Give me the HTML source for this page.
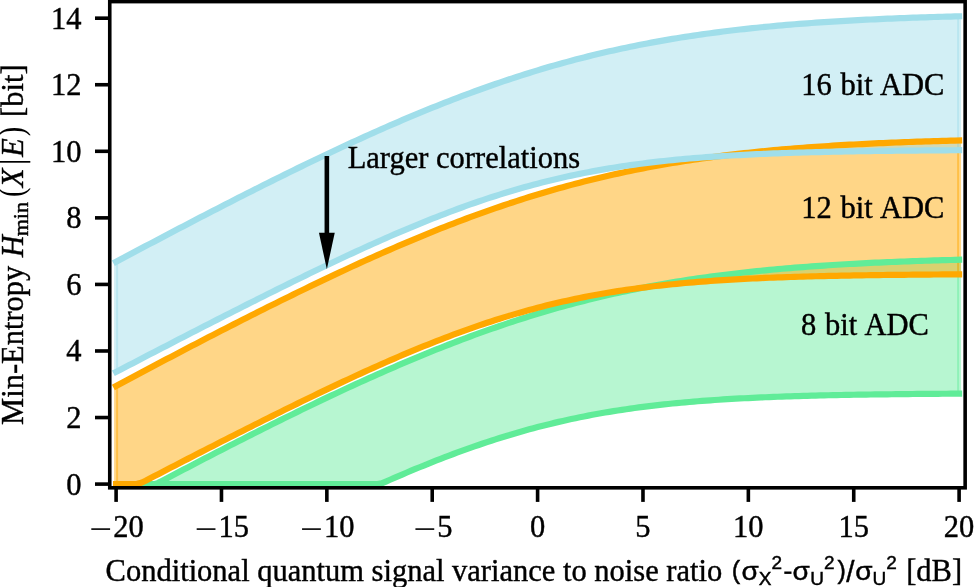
<!DOCTYPE html>
<html><head><meta charset="utf-8"><title>Min-Entropy</title>
<style>html,body{margin:0;padding:0;background:#fff;}svg{display:block;will-change:transform;}text{font-family:"Liberation Serif",serif;fill:#000;}.ss{font-family:"Liberation Sans",sans-serif;}</style>
</head><body>
<svg width="974" height="587" viewBox="0 0 974 587">
<rect width="974" height="587" fill="#fff"/>
<defs><clipPath id="ax"><rect x="109.75" y="1.60" width="855.40" height="486.20"/></clipPath></defs>
<g clip-path="url(#ax)">
<polygon points="116.10,484.10 120.31,484.10 124.53,484.10 128.75,484.10 132.96,484.10 137.17,484.10 141.39,484.10 145.60,484.10 149.82,484.10 154.04,484.10 158.25,482.86 162.46,480.64 166.68,478.42 170.90,476.20 175.11,473.99 179.32,471.78 183.54,469.58 187.75,467.38 191.97,465.18 196.19,462.98 200.40,460.79 204.61,458.61 208.83,456.43 213.05,454.25 217.26,452.08 221.47,449.91 225.69,447.75 229.91,445.59 234.12,443.44 238.34,441.29 242.55,439.14 246.76,437.01 250.98,434.88 255.20,432.75 259.41,430.63 263.62,428.52 267.84,426.41 272.06,424.31 276.27,422.21 280.49,420.13 284.70,418.05 288.92,415.97 293.13,413.91 297.34,411.85 301.56,409.80 305.77,407.75 309.99,405.72 314.20,403.69 318.42,401.67 322.63,399.66 326.85,397.66 331.06,395.67 335.28,393.69 339.50,391.72 343.71,389.75 347.92,387.80 352.14,385.86 356.36,383.92 360.57,382.00 364.78,380.09 369.00,378.19 373.22,376.30 377.43,374.42 381.64,372.56 385.86,370.71 390.07,368.86 394.29,367.04 398.50,365.22 402.72,363.42 406.93,361.63 411.15,359.85 415.37,358.08 419.58,356.34 423.79,354.60 428.01,352.88 432.23,351.17 436.44,349.48 440.65,347.80 444.87,346.14 449.09,344.49 453.30,342.86 457.51,341.25 461.73,339.65 465.95,338.07 470.16,336.50 474.38,334.95 478.59,333.42 482.81,331.90 487.02,330.40 491.24,328.92 495.45,327.45 499.66,326.00 503.88,324.57 508.10,323.16 512.31,321.77 516.52,320.39 520.74,319.03 524.96,317.69 529.17,316.37 533.38,315.07 537.60,313.79 541.82,312.52 546.03,311.27 550.25,310.04 554.46,308.83 558.67,307.64 562.89,306.47 567.11,305.31 571.32,304.18 575.53,303.06 579.75,301.96 583.97,300.88 588.18,299.82 592.39,298.78 596.61,297.76 600.82,296.75 605.04,295.76 609.25,294.80 613.47,293.85 617.68,292.91 621.90,292.00 626.12,291.10 630.33,290.22 634.55,289.36 638.76,288.51 642.98,287.69 647.19,286.88 651.41,286.08 655.62,285.31 659.84,284.55 664.05,283.80 668.27,283.08 672.48,282.36 676.70,281.67 680.91,280.99 685.12,280.32 689.34,279.67 693.56,279.04 697.77,278.42 701.99,277.81 706.20,277.22 710.42,276.65 714.63,276.08 718.85,275.53 723.06,275.00 727.27,274.47 731.49,273.96 735.71,273.47 739.92,272.98 744.13,272.51 748.35,272.05 752.57,271.60 756.78,271.16 761.00,270.74 765.21,270.32 769.42,269.92 773.64,269.52 777.86,269.14 782.07,268.77 786.28,268.40 790.50,268.05 794.72,267.71 798.93,267.37 803.14,267.05 807.36,266.73 811.58,266.42 815.79,266.13 820.00,265.83 824.22,265.55 828.44,265.28 832.65,265.01 836.87,264.75 841.08,264.50 845.30,264.25 849.51,264.01 853.73,263.78 857.94,263.56 862.15,263.34 866.37,263.13 870.59,262.92 874.80,262.72 879.02,262.53 883.23,262.34 887.45,262.16 891.66,261.98 895.88,261.81 900.09,261.64 904.30,261.48 908.52,261.32 912.74,261.16 916.95,261.02 921.17,260.87 925.38,260.73 929.60,260.60 933.81,260.47 938.02,260.34 942.24,260.21 946.46,260.09 950.67,259.98 954.89,259.86 959.10,259.75 959.10,393.67 954.89,393.69 950.67,393.72 946.46,393.74 942.24,393.77 938.02,393.80 933.81,393.83 929.60,393.86 925.38,393.90 921.17,393.93 916.95,393.97 912.74,394.01 908.52,394.05 904.30,394.09 900.09,394.14 895.88,394.18 891.66,394.23 887.45,394.28 883.23,394.33 879.02,394.39 874.80,394.45 870.59,394.51 866.37,394.57 862.15,394.63 857.94,394.70 853.73,394.77 849.51,394.85 845.30,394.93 841.08,395.01 836.87,395.09 832.65,395.18 828.44,395.27 824.22,395.37 820.00,395.47 815.79,395.58 811.58,395.69 807.36,395.80 803.14,395.92 798.93,396.04 794.72,396.18 790.50,396.31 786.28,396.45 782.07,396.60 777.86,396.75 773.64,396.92 769.42,397.08 765.21,397.26 761.00,397.44 756.78,397.63 752.57,397.83 748.35,398.03 744.13,398.25 739.92,398.47 735.71,398.70 731.49,398.94 727.27,399.20 723.06,399.46 718.85,399.73 714.63,400.01 710.42,400.31 706.20,400.62 701.99,400.93 697.77,401.27 693.56,401.61 689.34,401.97 685.12,402.34 680.91,402.72 676.70,403.12 672.48,403.54 668.27,403.97 664.05,404.41 659.84,404.87 655.62,405.35 651.41,405.85 647.19,406.36 642.98,406.89 638.76,407.44 634.55,408.01 630.33,408.60 626.12,409.20 621.90,409.83 617.68,410.48 613.47,411.15 609.25,411.84 605.04,412.55 600.82,413.28 596.61,414.04 592.39,414.81 588.18,415.61 583.97,416.44 579.75,417.29 575.53,418.16 571.32,419.05 567.11,419.97 562.89,420.91 558.67,421.88 554.46,422.87 550.25,423.89 546.03,424.93 541.82,426.00 537.60,427.09 533.38,428.21 529.17,429.35 524.96,430.52 520.74,431.71 516.52,432.93 512.31,434.17 508.10,435.43 503.88,436.72 499.66,438.04 495.45,439.38 491.24,440.74 487.02,442.12 482.81,443.53 478.59,444.96 474.38,446.42 470.16,447.90 465.95,449.40 461.73,450.92 457.51,452.46 453.30,454.02 449.09,455.61 444.87,457.21 440.65,458.84 436.44,460.48 432.23,462.14 428.01,463.83 423.79,465.53 419.58,467.24 415.37,468.98 411.15,470.73 406.93,472.50 402.72,474.28 398.50,476.08 394.29,477.90 390.07,479.73 385.86,481.57 381.64,483.43 377.43,484.10 373.22,484.10 369.00,484.10 364.78,484.10 360.57,484.10 356.36,484.10 352.14,484.10 347.92,484.10 343.71,484.10 339.50,484.10 335.28,484.10 331.06,484.10 326.85,484.10 322.63,484.10 318.42,484.10 314.20,484.10 309.99,484.10 305.77,484.10 301.56,484.10 297.34,484.10 293.13,484.10 288.92,484.10 284.70,484.10 280.49,484.10 276.27,484.10 272.06,484.10 267.84,484.10 263.62,484.10 259.41,484.10 255.20,484.10 250.98,484.10 246.76,484.10 242.55,484.10 238.34,484.10 234.12,484.10 229.91,484.10 225.69,484.10 221.47,484.10 217.26,484.10 213.05,484.10 208.83,484.10 204.61,484.10 200.40,484.10 196.19,484.10 191.97,484.10 187.75,484.10 183.54,484.10 179.32,484.10 175.11,484.10 170.90,484.10 166.68,484.10 162.46,484.10 158.25,484.10 154.04,484.10 149.82,484.10 145.60,484.10 141.39,484.10 137.17,484.10 132.96,484.10 128.75,484.10 124.53,484.10 120.31,484.10 116.10,484.10" fill="#60ec98" fill-opacity="0.45" stroke="#60ec98" stroke-opacity="0.45" stroke-width="4.0" stroke-linejoin="miter"/>
<polygon points="116.10,385.93 120.31,383.68 124.53,381.44 128.75,379.19 132.96,376.95 137.17,374.71 141.39,372.47 145.60,370.24 149.82,368.01 154.04,365.78 158.25,363.55 162.46,361.33 166.68,359.11 170.90,356.90 175.11,354.68 179.32,352.47 183.54,350.27 187.75,348.07 191.97,345.87 196.19,343.68 200.40,341.49 204.61,339.30 208.83,337.12 213.05,334.94 217.26,332.77 221.47,330.60 225.69,328.44 229.91,326.28 234.12,324.13 238.34,321.98 242.55,319.84 246.76,317.70 250.98,315.57 255.20,313.44 259.41,311.32 263.62,309.21 267.84,307.10 272.06,305.00 276.27,302.91 280.49,300.82 284.70,298.74 288.92,296.66 293.13,294.60 297.34,292.54 301.56,290.49 305.77,288.45 309.99,286.41 314.20,284.38 318.42,282.36 322.63,280.36 326.85,278.35 331.06,276.36 335.28,274.38 339.50,272.41 343.71,270.44 347.92,268.49 352.14,266.55 356.36,264.62 360.57,262.69 364.78,260.78 369.00,258.88 373.22,256.99 377.43,255.12 381.64,253.25 385.86,251.40 390.07,249.56 394.29,247.73 398.50,245.91 402.72,244.11 406.93,242.32 411.15,240.54 415.37,238.78 419.58,237.03 423.79,235.29 428.01,233.57 432.23,231.86 436.44,230.17 440.65,228.49 444.87,226.83 449.09,225.19 453.30,223.55 457.51,221.94 461.73,220.34 465.95,218.76 470.16,217.19 474.38,215.64 478.59,214.11 482.81,212.59 487.02,211.09 491.24,209.61 495.45,208.14 499.66,206.70 503.88,205.27 508.10,203.85 512.31,202.46 516.52,201.08 520.74,199.73 524.96,198.39 529.17,197.06 533.38,195.76 537.60,194.48 541.82,193.21 546.03,191.96 550.25,190.73 554.46,189.52 558.67,188.33 562.89,187.16 567.11,186.01 571.32,184.87 575.53,183.75 579.75,182.66 583.97,181.58 588.18,180.51 592.39,179.47 596.61,178.45 600.82,177.44 605.04,176.46 609.25,175.49 613.47,174.54 617.68,173.60 621.90,172.69 626.12,171.79 630.33,170.91 634.55,170.05 638.76,169.21 642.98,168.38 647.19,167.57 651.41,166.77 655.62,166.00 659.84,165.24 664.05,164.49 668.27,163.77 672.48,163.06 676.70,162.36 680.91,161.68 685.12,161.01 689.34,160.37 693.56,159.73 697.77,159.11 701.99,158.51 706.20,157.91 710.42,157.34 714.63,156.77 718.85,156.22 723.06,155.69 727.27,155.17 731.49,154.66 735.71,154.16 739.92,153.67 744.13,153.20 748.35,152.74 752.57,152.29 756.78,151.85 761.00,151.43 765.21,151.01 769.42,150.61 773.64,150.21 777.86,149.83 782.07,149.46 786.28,149.10 790.50,148.74 794.72,148.40 798.93,148.06 803.14,147.74 807.36,147.42 811.58,147.12 815.79,146.82 820.00,146.53 824.22,146.24 828.44,145.97 832.65,145.70 836.87,145.44 841.08,145.19 845.30,144.94 849.51,144.71 853.73,144.47 857.94,144.25 862.15,144.03 866.37,143.82 870.59,143.61 874.80,143.41 879.02,143.22 883.23,143.03 887.45,142.85 891.66,142.67 895.88,142.50 900.09,142.33 904.30,142.17 908.52,142.01 912.74,141.86 916.95,141.71 921.17,141.56 925.38,141.42 929.60,141.29 933.81,141.16 938.02,141.03 942.24,140.91 946.46,140.79 950.67,140.67 954.89,140.56 959.10,140.45 959.10,274.36 954.89,274.38 950.67,274.41 946.46,274.43 942.24,274.46 938.02,274.49 933.81,274.52 929.60,274.56 925.38,274.59 921.17,274.62 916.95,274.66 912.74,274.70 908.52,274.74 904.30,274.78 900.09,274.83 895.88,274.87 891.66,274.92 887.45,274.97 883.23,275.02 879.02,275.08 874.80,275.14 870.59,275.20 866.37,275.26 862.15,275.32 857.94,275.39 853.73,275.46 849.51,275.54 845.30,275.62 841.08,275.70 836.87,275.78 832.65,275.87 828.44,275.96 824.22,276.06 820.00,276.16 815.79,276.27 811.58,276.38 807.36,276.49 803.14,276.61 798.93,276.74 794.72,276.87 790.50,277.00 786.28,277.14 782.07,277.29 777.86,277.45 773.64,277.61 769.42,277.77 765.21,277.95 761.00,278.13 756.78,278.32 752.57,278.52 748.35,278.72 744.13,278.94 739.92,279.16 735.71,279.39 731.49,279.64 727.27,279.89 723.06,280.15 718.85,280.42 714.63,280.71 710.42,281.00 706.20,281.31 701.99,281.63 697.77,281.96 693.56,282.30 689.34,282.66 685.12,283.03 680.91,283.41 676.70,283.81 672.48,284.23 668.27,284.66 664.05,285.10 659.84,285.57 655.62,286.04 651.41,286.54 647.19,287.05 642.98,287.58 638.76,288.13 634.55,288.70 630.33,289.29 626.12,289.90 621.90,290.52 617.68,291.17 613.47,291.84 609.25,292.53 605.04,293.24 600.82,293.97 596.61,294.73 592.39,295.50 588.18,296.31 583.97,297.13 579.75,297.98 575.53,298.85 571.32,299.74 567.11,300.66 562.89,301.60 558.67,302.57 554.46,303.57 550.25,304.58 546.03,305.62 541.82,306.69 537.60,307.78 533.38,308.90 529.17,310.04 524.96,311.21 520.74,312.40 516.52,313.62 512.31,314.86 508.10,316.12 503.88,317.41 499.66,318.73 495.45,320.07 491.24,321.43 487.02,322.81 482.81,324.22 478.59,325.66 474.38,327.11 470.16,328.59 465.95,330.09 461.73,331.61 457.51,333.15 453.30,334.72 449.09,336.30 444.87,337.90 440.65,339.53 436.44,341.17 432.23,342.84 428.01,344.52 423.79,346.22 419.58,347.93 415.37,349.67 411.15,351.42 406.93,353.19 402.72,354.97 398.50,356.77 394.29,358.59 390.07,360.42 385.86,362.26 381.64,364.12 377.43,365.99 373.22,367.88 369.00,369.77 364.78,371.68 360.57,373.61 356.36,375.54 352.14,377.48 347.92,379.44 343.71,381.40 339.50,383.38 335.28,385.36 331.06,387.36 326.85,389.36 322.63,391.38 318.42,393.40 314.20,395.43 309.99,397.46 305.77,399.51 301.56,401.56 297.34,403.62 293.13,405.68 288.92,407.75 284.70,409.83 280.49,411.92 276.27,414.01 272.06,416.10 267.84,418.20 263.62,420.31 259.41,422.42 255.20,424.53 250.98,426.65 246.76,428.78 242.55,430.90 238.34,433.04 234.12,435.17 229.91,437.31 225.69,439.46 221.47,441.60 217.26,443.75 213.05,445.91 208.83,448.06 204.61,450.22 200.40,452.38 196.19,454.55 191.97,456.71 187.75,458.88 183.54,461.05 179.32,463.23 175.11,465.40 170.90,467.58 166.68,469.76 162.46,471.94 158.25,474.13 154.04,476.31 149.82,478.50 145.60,480.69 141.39,482.68 137.17,483.83 132.96,484.10 128.75,484.10 124.53,484.10 120.31,484.10 116.10,484.10" fill="#ffa800" fill-opacity="0.47" stroke="#ffa800" stroke-opacity="0.47" stroke-width="4.0" stroke-linejoin="miter"/>
<polygon points="116.10,261.80 120.31,259.55 124.53,257.30 128.75,255.06 132.96,252.81 137.17,250.57 141.39,248.34 145.60,246.10 149.82,243.87 154.04,241.64 158.25,239.42 162.46,237.20 166.68,234.98 170.90,232.76 175.11,230.55 179.32,228.34 183.54,226.13 187.75,223.93 191.97,221.73 196.19,219.54 200.40,217.35 204.61,215.17 208.83,212.98 213.05,210.81 217.26,208.63 221.47,206.47 225.69,204.30 229.91,202.15 234.12,199.99 238.34,197.84 242.55,195.70 246.76,193.56 250.98,191.43 255.20,189.31 259.41,187.19 263.62,185.07 267.84,182.97 272.06,180.87 276.27,178.77 280.49,176.68 284.70,174.60 288.92,172.53 293.13,170.46 297.34,168.40 301.56,166.35 305.77,164.31 309.99,162.28 314.20,160.25 318.42,158.23 322.63,156.22 326.85,154.22 331.06,152.23 335.28,150.25 339.50,148.27 343.71,146.31 347.92,144.36 352.14,142.41 356.36,140.48 360.57,138.56 364.78,136.65 369.00,134.75 373.22,132.86 377.43,130.98 381.64,129.12 385.86,127.26 390.07,125.42 394.29,123.59 398.50,121.78 402.72,119.97 406.93,118.18 411.15,116.40 415.37,114.64 419.58,112.89 423.79,111.16 428.01,109.44 432.23,107.73 436.44,106.04 440.65,104.36 444.87,102.70 449.09,101.05 453.30,99.42 457.51,97.81 461.73,96.21 465.95,94.62 470.16,93.06 474.38,91.51 478.59,89.97 482.81,88.46 487.02,86.96 491.24,85.47 495.45,84.01 499.66,82.56 503.88,81.13 508.10,79.72 512.31,78.33 516.52,76.95 520.74,75.59 524.96,74.25 529.17,72.93 533.38,71.63 537.60,70.34 541.82,69.08 546.03,67.83 550.25,66.60 554.46,65.39 558.67,64.20 562.89,63.03 567.11,61.87 571.32,60.74 575.53,59.62 579.75,58.52 583.97,57.44 588.18,56.38 592.39,55.34 596.61,54.31 600.82,53.31 605.04,52.32 609.25,51.35 613.47,50.40 617.68,49.47 621.90,48.55 626.12,47.66 630.33,46.78 634.55,45.92 638.76,45.07 642.98,44.24 647.19,43.43 651.41,42.64 655.62,41.86 659.84,41.10 664.05,40.36 668.27,39.63 672.48,38.92 676.70,38.23 680.91,37.55 685.12,36.88 689.34,36.23 693.56,35.60 697.77,34.98 701.99,34.37 706.20,33.78 710.42,33.20 714.63,32.64 718.85,32.09 723.06,31.55 727.27,31.03 731.49,30.52 735.71,30.02 739.92,29.54 744.13,29.07 748.35,28.61 752.57,28.16 756.78,27.72 761.00,27.29 765.21,26.88 769.42,26.47 773.64,26.08 777.86,25.70 782.07,25.32 786.28,24.96 790.50,24.61 794.72,24.26 798.93,23.93 803.14,23.61 807.36,23.29 811.58,22.98 815.79,22.68 820.00,22.39 824.22,22.11 828.44,21.83 832.65,21.57 836.87,21.31 841.08,21.05 845.30,20.81 849.51,20.57 853.73,20.34 857.94,20.11 862.15,19.90 866.37,19.68 870.59,19.48 874.80,19.28 879.02,19.08 883.23,18.90 887.45,18.71 891.66,18.53 895.88,18.36 900.09,18.19 904.30,18.03 908.52,17.87 912.74,17.72 916.95,17.57 921.17,17.43 925.38,17.29 929.60,17.15 933.81,17.02 938.02,16.89 942.24,16.77 946.46,16.65 950.67,16.53 954.89,16.42 959.10,16.31 959.10,150.22 954.89,150.25 950.67,150.27 946.46,150.30 942.24,150.33 938.02,150.36 933.81,150.39 929.60,150.42 925.38,150.46 921.17,150.49 916.95,150.53 912.74,150.57 908.52,150.61 904.30,150.65 900.09,150.69 895.88,150.74 891.66,150.79 887.45,150.84 883.23,150.89 879.02,150.94 874.80,151.00 870.59,151.06 866.37,151.12 862.15,151.19 857.94,151.26 853.73,151.33 849.51,151.40 845.30,151.48 841.08,151.56 836.87,151.65 832.65,151.74 828.44,151.83 824.22,151.93 820.00,152.03 815.79,152.13 811.58,152.24 807.36,152.36 803.14,152.48 798.93,152.60 794.72,152.73 790.50,152.87 786.28,153.01 782.07,153.16 777.86,153.31 773.64,153.47 769.42,153.64 765.21,153.81 761.00,154.00 756.78,154.19 752.57,154.38 748.35,154.59 744.13,154.80 739.92,155.03 735.71,155.26 731.49,155.50 727.27,155.75 723.06,156.02 718.85,156.29 714.63,156.57 710.42,156.87 706.20,157.17 701.99,157.49 697.77,157.82 693.56,158.17 689.34,158.52 685.12,158.89 680.91,159.28 676.70,159.68 672.48,160.09 668.27,160.52 664.05,160.97 659.84,161.43 655.62,161.91 651.41,162.40 647.19,162.92 642.98,163.45 638.76,164.00 634.55,164.57 630.33,165.15 626.12,165.76 621.90,166.39 617.68,167.04 613.47,167.70 609.25,168.39 605.04,169.10 600.82,169.84 596.61,170.59 592.39,171.37 588.18,172.17 583.97,172.99 579.75,173.84 575.53,174.71 571.32,175.61 567.11,176.53 562.89,177.47 558.67,178.44 554.46,179.43 550.25,180.45 546.03,181.49 541.82,182.56 537.60,183.65 533.38,184.77 529.17,185.91 524.96,187.07 520.74,188.27 516.52,189.48 512.31,190.72 508.10,191.99 503.88,193.28 499.66,194.59 495.45,195.93 491.24,197.29 487.02,198.68 482.81,200.09 478.59,201.52 474.38,202.98 470.16,204.45 465.95,205.95 461.73,207.47 457.51,209.02 453.30,210.58 449.09,212.17 444.87,213.77 440.65,215.39 436.44,217.04 432.23,218.70 428.01,220.38 423.79,222.08 419.58,223.80 415.37,225.53 411.15,227.29 406.93,229.06 402.72,230.84 398.50,232.64 394.29,234.45 390.07,236.28 385.86,238.13 381.64,239.99 377.43,241.86 373.22,243.74 369.00,245.64 364.78,247.55 360.57,249.47 356.36,251.40 352.14,253.35 347.92,255.30 343.71,257.27 339.50,259.25 335.28,261.23 331.06,263.23 326.85,265.23 322.63,267.24 318.42,269.26 314.20,271.29 309.99,273.33 305.77,275.37 301.56,277.42 297.34,279.48 293.13,281.55 288.92,283.62 284.70,285.70 280.49,287.78 276.27,289.87 272.06,291.97 267.84,294.07 263.62,296.17 259.41,298.28 255.20,300.40 250.98,302.52 246.76,304.64 242.55,306.77 238.34,308.90 234.12,311.04 229.91,313.18 225.69,315.32 221.47,317.47 217.26,319.62 213.05,321.77 208.83,323.93 204.61,326.09 200.40,328.25 196.19,330.41 191.97,332.58 187.75,334.75 183.54,336.92 179.32,339.09 175.11,341.27 170.90,343.45 166.68,345.63 162.46,347.81 158.25,349.99 154.04,352.18 149.82,354.36 145.60,356.55 141.39,358.74 137.17,360.93 132.96,363.13 128.75,365.32 124.53,367.52 120.31,369.71 116.10,371.91" fill="#a0deea" fill-opacity="0.47" stroke="#a0deea" stroke-opacity="0.47" stroke-width="4.0" stroke-linejoin="miter"/>
<polyline points="116.10,484.10 120.31,484.10 124.53,484.10 128.75,484.10 132.96,484.10 137.17,484.10 141.39,484.10 145.60,484.10 149.82,484.10 154.04,484.10 158.25,482.86 162.46,480.64 166.68,478.42 170.90,476.20 175.11,473.99 179.32,471.78 183.54,469.58 187.75,467.38 191.97,465.18 196.19,462.98 200.40,460.79 204.61,458.61 208.83,456.43 213.05,454.25 217.26,452.08 221.47,449.91 225.69,447.75 229.91,445.59 234.12,443.44 238.34,441.29 242.55,439.14 246.76,437.01 250.98,434.88 255.20,432.75 259.41,430.63 263.62,428.52 267.84,426.41 272.06,424.31 276.27,422.21 280.49,420.13 284.70,418.05 288.92,415.97 293.13,413.91 297.34,411.85 301.56,409.80 305.77,407.75 309.99,405.72 314.20,403.69 318.42,401.67 322.63,399.66 326.85,397.66 331.06,395.67 335.28,393.69 339.50,391.72 343.71,389.75 347.92,387.80 352.14,385.86 356.36,383.92 360.57,382.00 364.78,380.09 369.00,378.19 373.22,376.30 377.43,374.42 381.64,372.56 385.86,370.71 390.07,368.86 394.29,367.04 398.50,365.22 402.72,363.42 406.93,361.63 411.15,359.85 415.37,358.08 419.58,356.34 423.79,354.60 428.01,352.88 432.23,351.17 436.44,349.48 440.65,347.80 444.87,346.14 449.09,344.49 453.30,342.86 457.51,341.25 461.73,339.65 465.95,338.07 470.16,336.50 474.38,334.95 478.59,333.42 482.81,331.90 487.02,330.40 491.24,328.92 495.45,327.45 499.66,326.00 503.88,324.57 508.10,323.16 512.31,321.77 516.52,320.39 520.74,319.03 524.96,317.69 529.17,316.37 533.38,315.07 537.60,313.79 541.82,312.52 546.03,311.27 550.25,310.04 554.46,308.83 558.67,307.64 562.89,306.47 567.11,305.31 571.32,304.18 575.53,303.06 579.75,301.96 583.97,300.88 588.18,299.82 592.39,298.78 596.61,297.76 600.82,296.75 605.04,295.76 609.25,294.80 613.47,293.85 617.68,292.91 621.90,292.00 626.12,291.10 630.33,290.22 634.55,289.36 638.76,288.51 642.98,287.69 647.19,286.88 651.41,286.08 655.62,285.31 659.84,284.55 664.05,283.80 668.27,283.08 672.48,282.36 676.70,281.67 680.91,280.99 685.12,280.32 689.34,279.67 693.56,279.04 697.77,278.42 701.99,277.81 706.20,277.22 710.42,276.65 714.63,276.08 718.85,275.53 723.06,275.00 727.27,274.47 731.49,273.96 735.71,273.47 739.92,272.98 744.13,272.51 748.35,272.05 752.57,271.60 756.78,271.16 761.00,270.74 765.21,270.32 769.42,269.92 773.64,269.52 777.86,269.14 782.07,268.77 786.28,268.40 790.50,268.05 794.72,267.71 798.93,267.37 803.14,267.05 807.36,266.73 811.58,266.42 815.79,266.13 820.00,265.83 824.22,265.55 828.44,265.28 832.65,265.01 836.87,264.75 841.08,264.50 845.30,264.25 849.51,264.01 853.73,263.78 857.94,263.56 862.15,263.34 866.37,263.13 870.59,262.92 874.80,262.72 879.02,262.53 883.23,262.34 887.45,262.16 891.66,261.98 895.88,261.81 900.09,261.64 904.30,261.48 908.52,261.32 912.74,261.16 916.95,261.02 921.17,260.87 925.38,260.73 929.60,260.60 933.81,260.47 938.02,260.34 942.24,260.21 946.46,260.09 950.67,259.98 954.89,259.86 959.10,259.75" fill="none" stroke="#60ec98" stroke-width="6.2" stroke-linecap="square" stroke-linejoin="round"/>
<polyline points="116.10,484.10 120.31,484.10 124.53,484.10 128.75,484.10 132.96,484.10 137.17,484.10 141.39,484.10 145.60,484.10 149.82,484.10 154.04,484.10 158.25,484.10 162.46,484.10 166.68,484.10 170.90,484.10 175.11,484.10 179.32,484.10 183.54,484.10 187.75,484.10 191.97,484.10 196.19,484.10 200.40,484.10 204.61,484.10 208.83,484.10 213.05,484.10 217.26,484.10 221.47,484.10 225.69,484.10 229.91,484.10 234.12,484.10 238.34,484.10 242.55,484.10 246.76,484.10 250.98,484.10 255.20,484.10 259.41,484.10 263.62,484.10 267.84,484.10 272.06,484.10 276.27,484.10 280.49,484.10 284.70,484.10 288.92,484.10 293.13,484.10 297.34,484.10 301.56,484.10 305.77,484.10 309.99,484.10 314.20,484.10 318.42,484.10 322.63,484.10 326.85,484.10 331.06,484.10 335.28,484.10 339.50,484.10 343.71,484.10 347.92,484.10 352.14,484.10 356.36,484.10 360.57,484.10 364.78,484.10 369.00,484.10 373.22,484.10 377.43,484.10 381.64,483.43 385.86,481.57 390.07,479.73 394.29,477.90 398.50,476.08 402.72,474.28 406.93,472.50 411.15,470.73 415.37,468.98 419.58,467.24 423.79,465.53 428.01,463.83 432.23,462.14 436.44,460.48 440.65,458.84 444.87,457.21 449.09,455.61 453.30,454.02 457.51,452.46 461.73,450.92 465.95,449.40 470.16,447.90 474.38,446.42 478.59,444.96 482.81,443.53 487.02,442.12 491.24,440.74 495.45,439.38 499.66,438.04 503.88,436.72 508.10,435.43 512.31,434.17 516.52,432.93 520.74,431.71 524.96,430.52 529.17,429.35 533.38,428.21 537.60,427.09 541.82,426.00 546.03,424.93 550.25,423.89 554.46,422.87 558.67,421.88 562.89,420.91 567.11,419.97 571.32,419.05 575.53,418.16 579.75,417.29 583.97,416.44 588.18,415.61 592.39,414.81 596.61,414.04 600.82,413.28 605.04,412.55 609.25,411.84 613.47,411.15 617.68,410.48 621.90,409.83 626.12,409.20 630.33,408.60 634.55,408.01 638.76,407.44 642.98,406.89 647.19,406.36 651.41,405.85 655.62,405.35 659.84,404.87 664.05,404.41 668.27,403.97 672.48,403.54 676.70,403.12 680.91,402.72 685.12,402.34 689.34,401.97 693.56,401.61 697.77,401.27 701.99,400.93 706.20,400.62 710.42,400.31 714.63,400.01 718.85,399.73 723.06,399.46 727.27,399.20 731.49,398.94 735.71,398.70 739.92,398.47 744.13,398.25 748.35,398.03 752.57,397.83 756.78,397.63 761.00,397.44 765.21,397.26 769.42,397.08 773.64,396.92 777.86,396.75 782.07,396.60 786.28,396.45 790.50,396.31 794.72,396.18 798.93,396.04 803.14,395.92 807.36,395.80 811.58,395.69 815.79,395.58 820.00,395.47 824.22,395.37 828.44,395.27 832.65,395.18 836.87,395.09 841.08,395.01 845.30,394.93 849.51,394.85 853.73,394.77 857.94,394.70 862.15,394.63 866.37,394.57 870.59,394.51 874.80,394.45 879.02,394.39 883.23,394.33 887.45,394.28 891.66,394.23 895.88,394.18 900.09,394.14 904.30,394.09 908.52,394.05 912.74,394.01 916.95,393.97 921.17,393.93 925.38,393.90 929.60,393.86 933.81,393.83 938.02,393.80 942.24,393.77 946.46,393.74 950.67,393.72 954.89,393.69 959.10,393.67" fill="none" stroke="#60ec98" stroke-width="6.2" stroke-linecap="square" stroke-linejoin="round"/>
<polyline points="116.10,385.93 120.31,383.68 124.53,381.44 128.75,379.19 132.96,376.95 137.17,374.71 141.39,372.47 145.60,370.24 149.82,368.01 154.04,365.78 158.25,363.55 162.46,361.33 166.68,359.11 170.90,356.90 175.11,354.68 179.32,352.47 183.54,350.27 187.75,348.07 191.97,345.87 196.19,343.68 200.40,341.49 204.61,339.30 208.83,337.12 213.05,334.94 217.26,332.77 221.47,330.60 225.69,328.44 229.91,326.28 234.12,324.13 238.34,321.98 242.55,319.84 246.76,317.70 250.98,315.57 255.20,313.44 259.41,311.32 263.62,309.21 267.84,307.10 272.06,305.00 276.27,302.91 280.49,300.82 284.70,298.74 288.92,296.66 293.13,294.60 297.34,292.54 301.56,290.49 305.77,288.45 309.99,286.41 314.20,284.38 318.42,282.36 322.63,280.36 326.85,278.35 331.06,276.36 335.28,274.38 339.50,272.41 343.71,270.44 347.92,268.49 352.14,266.55 356.36,264.62 360.57,262.69 364.78,260.78 369.00,258.88 373.22,256.99 377.43,255.12 381.64,253.25 385.86,251.40 390.07,249.56 394.29,247.73 398.50,245.91 402.72,244.11 406.93,242.32 411.15,240.54 415.37,238.78 419.58,237.03 423.79,235.29 428.01,233.57 432.23,231.86 436.44,230.17 440.65,228.49 444.87,226.83 449.09,225.19 453.30,223.55 457.51,221.94 461.73,220.34 465.95,218.76 470.16,217.19 474.38,215.64 478.59,214.11 482.81,212.59 487.02,211.09 491.24,209.61 495.45,208.14 499.66,206.70 503.88,205.27 508.10,203.85 512.31,202.46 516.52,201.08 520.74,199.73 524.96,198.39 529.17,197.06 533.38,195.76 537.60,194.48 541.82,193.21 546.03,191.96 550.25,190.73 554.46,189.52 558.67,188.33 562.89,187.16 567.11,186.01 571.32,184.87 575.53,183.75 579.75,182.66 583.97,181.58 588.18,180.51 592.39,179.47 596.61,178.45 600.82,177.44 605.04,176.46 609.25,175.49 613.47,174.54 617.68,173.60 621.90,172.69 626.12,171.79 630.33,170.91 634.55,170.05 638.76,169.21 642.98,168.38 647.19,167.57 651.41,166.77 655.62,166.00 659.84,165.24 664.05,164.49 668.27,163.77 672.48,163.06 676.70,162.36 680.91,161.68 685.12,161.01 689.34,160.37 693.56,159.73 697.77,159.11 701.99,158.51 706.20,157.91 710.42,157.34 714.63,156.77 718.85,156.22 723.06,155.69 727.27,155.17 731.49,154.66 735.71,154.16 739.92,153.67 744.13,153.20 748.35,152.74 752.57,152.29 756.78,151.85 761.00,151.43 765.21,151.01 769.42,150.61 773.64,150.21 777.86,149.83 782.07,149.46 786.28,149.10 790.50,148.74 794.72,148.40 798.93,148.06 803.14,147.74 807.36,147.42 811.58,147.12 815.79,146.82 820.00,146.53 824.22,146.24 828.44,145.97 832.65,145.70 836.87,145.44 841.08,145.19 845.30,144.94 849.51,144.71 853.73,144.47 857.94,144.25 862.15,144.03 866.37,143.82 870.59,143.61 874.80,143.41 879.02,143.22 883.23,143.03 887.45,142.85 891.66,142.67 895.88,142.50 900.09,142.33 904.30,142.17 908.52,142.01 912.74,141.86 916.95,141.71 921.17,141.56 925.38,141.42 929.60,141.29 933.81,141.16 938.02,141.03 942.24,140.91 946.46,140.79 950.67,140.67 954.89,140.56 959.10,140.45" fill="none" stroke="#ffa800" stroke-width="6.2" stroke-linecap="square" stroke-linejoin="round"/>
<polyline points="116.10,484.10 120.31,484.10 124.53,484.10 128.75,484.10 132.96,484.10 137.17,483.83 141.39,482.68 145.60,480.69 149.82,478.50 154.04,476.31 158.25,474.13 162.46,471.94 166.68,469.76 170.90,467.58 175.11,465.40 179.32,463.23 183.54,461.05 187.75,458.88 191.97,456.71 196.19,454.55 200.40,452.38 204.61,450.22 208.83,448.06 213.05,445.91 217.26,443.75 221.47,441.60 225.69,439.46 229.91,437.31 234.12,435.17 238.34,433.04 242.55,430.90 246.76,428.78 250.98,426.65 255.20,424.53 259.41,422.42 263.62,420.31 267.84,418.20 272.06,416.10 276.27,414.01 280.49,411.92 284.70,409.83 288.92,407.75 293.13,405.68 297.34,403.62 301.56,401.56 305.77,399.51 309.99,397.46 314.20,395.43 318.42,393.40 322.63,391.38 326.85,389.36 331.06,387.36 335.28,385.36 339.50,383.38 343.71,381.40 347.92,379.44 352.14,377.48 356.36,375.54 360.57,373.61 364.78,371.68 369.00,369.77 373.22,367.88 377.43,365.99 381.64,364.12 385.86,362.26 390.07,360.42 394.29,358.59 398.50,356.77 402.72,354.97 406.93,353.19 411.15,351.42 415.37,349.67 419.58,347.93 423.79,346.22 428.01,344.52 432.23,342.84 436.44,341.17 440.65,339.53 444.87,337.90 449.09,336.30 453.30,334.72 457.51,333.15 461.73,331.61 465.95,330.09 470.16,328.59 474.38,327.11 478.59,325.66 482.81,324.22 487.02,322.81 491.24,321.43 495.45,320.07 499.66,318.73 503.88,317.41 508.10,316.12 512.31,314.86 516.52,313.62 520.74,312.40 524.96,311.21 529.17,310.04 533.38,308.90 537.60,307.78 541.82,306.69 546.03,305.62 550.25,304.58 554.46,303.57 558.67,302.57 562.89,301.60 567.11,300.66 571.32,299.74 575.53,298.85 579.75,297.98 583.97,297.13 588.18,296.31 592.39,295.50 596.61,294.73 600.82,293.97 605.04,293.24 609.25,292.53 613.47,291.84 617.68,291.17 621.90,290.52 626.12,289.90 630.33,289.29 634.55,288.70 638.76,288.13 642.98,287.58 647.19,287.05 651.41,286.54 655.62,286.04 659.84,285.57 664.05,285.10 668.27,284.66 672.48,284.23 676.70,283.81 680.91,283.41 685.12,283.03 689.34,282.66 693.56,282.30 697.77,281.96 701.99,281.63 706.20,281.31 710.42,281.00 714.63,280.71 718.85,280.42 723.06,280.15 727.27,279.89 731.49,279.64 735.71,279.39 739.92,279.16 744.13,278.94 748.35,278.72 752.57,278.52 756.78,278.32 761.00,278.13 765.21,277.95 769.42,277.77 773.64,277.61 777.86,277.45 782.07,277.29 786.28,277.14 790.50,277.00 794.72,276.87 798.93,276.74 803.14,276.61 807.36,276.49 811.58,276.38 815.79,276.27 820.00,276.16 824.22,276.06 828.44,275.96 832.65,275.87 836.87,275.78 841.08,275.70 845.30,275.62 849.51,275.54 853.73,275.46 857.94,275.39 862.15,275.32 866.37,275.26 870.59,275.20 874.80,275.14 879.02,275.08 883.23,275.02 887.45,274.97 891.66,274.92 895.88,274.87 900.09,274.83 904.30,274.78 908.52,274.74 912.74,274.70 916.95,274.66 921.17,274.62 925.38,274.59 929.60,274.56 933.81,274.52 938.02,274.49 942.24,274.46 946.46,274.43 950.67,274.41 954.89,274.38 959.10,274.36" fill="none" stroke="#ffa800" stroke-width="6.2" stroke-linecap="square" stroke-linejoin="round"/>
<polyline points="116.10,261.80 120.31,259.55 124.53,257.30 128.75,255.06 132.96,252.81 137.17,250.57 141.39,248.34 145.60,246.10 149.82,243.87 154.04,241.64 158.25,239.42 162.46,237.20 166.68,234.98 170.90,232.76 175.11,230.55 179.32,228.34 183.54,226.13 187.75,223.93 191.97,221.73 196.19,219.54 200.40,217.35 204.61,215.17 208.83,212.98 213.05,210.81 217.26,208.63 221.47,206.47 225.69,204.30 229.91,202.15 234.12,199.99 238.34,197.84 242.55,195.70 246.76,193.56 250.98,191.43 255.20,189.31 259.41,187.19 263.62,185.07 267.84,182.97 272.06,180.87 276.27,178.77 280.49,176.68 284.70,174.60 288.92,172.53 293.13,170.46 297.34,168.40 301.56,166.35 305.77,164.31 309.99,162.28 314.20,160.25 318.42,158.23 322.63,156.22 326.85,154.22 331.06,152.23 335.28,150.25 339.50,148.27 343.71,146.31 347.92,144.36 352.14,142.41 356.36,140.48 360.57,138.56 364.78,136.65 369.00,134.75 373.22,132.86 377.43,130.98 381.64,129.12 385.86,127.26 390.07,125.42 394.29,123.59 398.50,121.78 402.72,119.97 406.93,118.18 411.15,116.40 415.37,114.64 419.58,112.89 423.79,111.16 428.01,109.44 432.23,107.73 436.44,106.04 440.65,104.36 444.87,102.70 449.09,101.05 453.30,99.42 457.51,97.81 461.73,96.21 465.95,94.62 470.16,93.06 474.38,91.51 478.59,89.97 482.81,88.46 487.02,86.96 491.24,85.47 495.45,84.01 499.66,82.56 503.88,81.13 508.10,79.72 512.31,78.33 516.52,76.95 520.74,75.59 524.96,74.25 529.17,72.93 533.38,71.63 537.60,70.34 541.82,69.08 546.03,67.83 550.25,66.60 554.46,65.39 558.67,64.20 562.89,63.03 567.11,61.87 571.32,60.74 575.53,59.62 579.75,58.52 583.97,57.44 588.18,56.38 592.39,55.34 596.61,54.31 600.82,53.31 605.04,52.32 609.25,51.35 613.47,50.40 617.68,49.47 621.90,48.55 626.12,47.66 630.33,46.78 634.55,45.92 638.76,45.07 642.98,44.24 647.19,43.43 651.41,42.64 655.62,41.86 659.84,41.10 664.05,40.36 668.27,39.63 672.48,38.92 676.70,38.23 680.91,37.55 685.12,36.88 689.34,36.23 693.56,35.60 697.77,34.98 701.99,34.37 706.20,33.78 710.42,33.20 714.63,32.64 718.85,32.09 723.06,31.55 727.27,31.03 731.49,30.52 735.71,30.02 739.92,29.54 744.13,29.07 748.35,28.61 752.57,28.16 756.78,27.72 761.00,27.29 765.21,26.88 769.42,26.47 773.64,26.08 777.86,25.70 782.07,25.32 786.28,24.96 790.50,24.61 794.72,24.26 798.93,23.93 803.14,23.61 807.36,23.29 811.58,22.98 815.79,22.68 820.00,22.39 824.22,22.11 828.44,21.83 832.65,21.57 836.87,21.31 841.08,21.05 845.30,20.81 849.51,20.57 853.73,20.34 857.94,20.11 862.15,19.90 866.37,19.68 870.59,19.48 874.80,19.28 879.02,19.08 883.23,18.90 887.45,18.71 891.66,18.53 895.88,18.36 900.09,18.19 904.30,18.03 908.52,17.87 912.74,17.72 916.95,17.57 921.17,17.43 925.38,17.29 929.60,17.15 933.81,17.02 938.02,16.89 942.24,16.77 946.46,16.65 950.67,16.53 954.89,16.42 959.10,16.31" fill="none" stroke="#a0deea" stroke-width="6.2" stroke-linecap="square" stroke-linejoin="round"/>
<polyline points="116.10,371.91 120.31,369.71 124.53,367.52 128.75,365.32 132.96,363.13 137.17,360.93 141.39,358.74 145.60,356.55 149.82,354.36 154.04,352.18 158.25,349.99 162.46,347.81 166.68,345.63 170.90,343.45 175.11,341.27 179.32,339.09 183.54,336.92 187.75,334.75 191.97,332.58 196.19,330.41 200.40,328.25 204.61,326.09 208.83,323.93 213.05,321.77 217.26,319.62 221.47,317.47 225.69,315.32 229.91,313.18 234.12,311.04 238.34,308.90 242.55,306.77 246.76,304.64 250.98,302.52 255.20,300.40 259.41,298.28 263.62,296.17 267.84,294.07 272.06,291.97 276.27,289.87 280.49,287.78 284.70,285.70 288.92,283.62 293.13,281.55 297.34,279.48 301.56,277.42 305.77,275.37 309.99,273.33 314.20,271.29 318.42,269.26 322.63,267.24 326.85,265.23 331.06,263.23 335.28,261.23 339.50,259.25 343.71,257.27 347.92,255.30 352.14,253.35 356.36,251.40 360.57,249.47 364.78,247.55 369.00,245.64 373.22,243.74 377.43,241.86 381.64,239.99 385.86,238.13 390.07,236.28 394.29,234.45 398.50,232.64 402.72,230.84 406.93,229.06 411.15,227.29 415.37,225.53 419.58,223.80 423.79,222.08 428.01,220.38 432.23,218.70 436.44,217.04 440.65,215.39 444.87,213.77 449.09,212.17 453.30,210.58 457.51,209.02 461.73,207.47 465.95,205.95 470.16,204.45 474.38,202.98 478.59,201.52 482.81,200.09 487.02,198.68 491.24,197.29 495.45,195.93 499.66,194.59 503.88,193.28 508.10,191.99 512.31,190.72 516.52,189.48 520.74,188.27 524.96,187.07 529.17,185.91 533.38,184.77 537.60,183.65 541.82,182.56 546.03,181.49 550.25,180.45 554.46,179.43 558.67,178.44 562.89,177.47 567.11,176.53 571.32,175.61 575.53,174.71 579.75,173.84 583.97,172.99 588.18,172.17 592.39,171.37 596.61,170.59 600.82,169.84 605.04,169.10 609.25,168.39 613.47,167.70 617.68,167.04 621.90,166.39 626.12,165.76 630.33,165.15 634.55,164.57 638.76,164.00 642.98,163.45 647.19,162.92 651.41,162.40 655.62,161.91 659.84,161.43 664.05,160.97 668.27,160.52 672.48,160.09 676.70,159.68 680.91,159.28 685.12,158.89 689.34,158.52 693.56,158.17 697.77,157.82 701.99,157.49 706.20,157.17 710.42,156.87 714.63,156.57 718.85,156.29 723.06,156.02 727.27,155.75 731.49,155.50 735.71,155.26 739.92,155.03 744.13,154.80 748.35,154.59 752.57,154.38 756.78,154.19 761.00,154.00 765.21,153.81 769.42,153.64 773.64,153.47 777.86,153.31 782.07,153.16 786.28,153.01 790.50,152.87 794.72,152.73 798.93,152.60 803.14,152.48 807.36,152.36 811.58,152.24 815.79,152.13 820.00,152.03 824.22,151.93 828.44,151.83 832.65,151.74 836.87,151.65 841.08,151.56 845.30,151.48 849.51,151.40 853.73,151.33 857.94,151.26 862.15,151.19 866.37,151.12 870.59,151.06 874.80,151.00 879.02,150.94 883.23,150.89 887.45,150.84 891.66,150.79 895.88,150.74 900.09,150.69 904.30,150.65 908.52,150.61 912.74,150.57 916.95,150.53 921.17,150.49 925.38,150.46 929.60,150.42 933.81,150.39 938.02,150.36 942.24,150.33 946.46,150.30 950.67,150.27 954.89,150.25 959.10,150.22" fill="none" stroke="#a0deea" stroke-width="6.2" stroke-linecap="square" stroke-linejoin="round"/>
</g>
<rect x="109.75" y="1.60" width="855.40" height="486.20" fill="none" stroke="#000" stroke-width="3.6"/>
<line x1="95.00" y1="484.10" x2="109.75" y2="484.10" stroke="#000" stroke-width="3.6"/>
<text x="81.6" y="494.60" font-size="30.5" text-anchor="end" stroke="#000" stroke-width="0.4">0</text>
<line x1="95.00" y1="417.54" x2="109.75" y2="417.54" stroke="#000" stroke-width="3.6"/>
<text x="81.6" y="428.04" font-size="30.5" text-anchor="end" stroke="#000" stroke-width="0.4">2</text>
<line x1="95.00" y1="350.98" x2="109.75" y2="350.98" stroke="#000" stroke-width="3.6"/>
<text x="81.6" y="361.48" font-size="30.5" text-anchor="end" stroke="#000" stroke-width="0.4">4</text>
<line x1="95.00" y1="284.42" x2="109.75" y2="284.42" stroke="#000" stroke-width="3.6"/>
<text x="81.6" y="294.92" font-size="30.5" text-anchor="end" stroke="#000" stroke-width="0.4">6</text>
<line x1="95.00" y1="217.86" x2="109.75" y2="217.86" stroke="#000" stroke-width="3.6"/>
<text x="81.6" y="228.36" font-size="30.5" text-anchor="end" stroke="#000" stroke-width="0.4">8</text>
<line x1="95.00" y1="151.30" x2="109.75" y2="151.30" stroke="#000" stroke-width="3.6"/>
<text x="81.6" y="161.80" font-size="30.5" text-anchor="end" stroke="#000" stroke-width="0.4">10</text>
<line x1="95.00" y1="84.74" x2="109.75" y2="84.74" stroke="#000" stroke-width="3.6"/>
<text x="81.6" y="95.24" font-size="30.5" text-anchor="end" stroke="#000" stroke-width="0.4">12</text>
<line x1="95.00" y1="18.18" x2="109.75" y2="18.18" stroke="#000" stroke-width="3.6"/>
<text x="81.6" y="28.68" font-size="30.5" text-anchor="end" stroke="#000" stroke-width="0.4">14</text>
<line x1="116.10" y1="487.80" x2="116.10" y2="501.90" stroke="#000" stroke-width="3.6"/>
<rect x="91.30" y="528.3" width="18.8" height="1.6" fill="#000"/>
<text x="113.20" y="536.8" font-size="30.5" text-anchor="start" stroke="#000" stroke-width="0.4">20</text>
<line x1="221.47" y1="487.80" x2="221.47" y2="501.90" stroke="#000" stroke-width="3.6"/>
<rect x="196.67" y="528.3" width="18.8" height="1.6" fill="#000"/>
<text x="218.57" y="536.8" font-size="30.5" text-anchor="start" stroke="#000" stroke-width="0.4">15</text>
<line x1="326.85" y1="487.80" x2="326.85" y2="501.90" stroke="#000" stroke-width="3.6"/>
<rect x="302.05" y="528.3" width="18.8" height="1.6" fill="#000"/>
<text x="323.95" y="536.8" font-size="30.5" text-anchor="start" stroke="#000" stroke-width="0.4">10</text>
<line x1="432.23" y1="487.80" x2="432.23" y2="501.90" stroke="#000" stroke-width="3.6"/>
<rect x="415.43" y="528.3" width="18.8" height="1.6" fill="#000"/>
<text x="437.23" y="536.8" font-size="30.5" text-anchor="start" stroke="#000" stroke-width="0.4">5</text>
<line x1="537.60" y1="487.80" x2="537.60" y2="501.90" stroke="#000" stroke-width="3.6"/>
<text x="537.60" y="536.8" font-size="30.5" text-anchor="middle" stroke="#000" stroke-width="0.4">0</text>
<line x1="642.98" y1="487.80" x2="642.98" y2="501.90" stroke="#000" stroke-width="3.6"/>
<text x="642.98" y="536.8" font-size="30.5" text-anchor="middle" stroke="#000" stroke-width="0.4">5</text>
<line x1="748.35" y1="487.80" x2="748.35" y2="501.90" stroke="#000" stroke-width="3.6"/>
<text x="748.35" y="536.8" font-size="30.5" text-anchor="middle" stroke="#000" stroke-width="0.4">10</text>
<line x1="853.73" y1="487.80" x2="853.73" y2="501.90" stroke="#000" stroke-width="3.6"/>
<text x="853.73" y="536.8" font-size="30.5" text-anchor="middle" stroke="#000" stroke-width="0.4">15</text>
<line x1="959.10" y1="487.80" x2="959.10" y2="501.90" stroke="#000" stroke-width="3.6"/>
<text x="959.10" y="536.8" font-size="30.5" text-anchor="middle" stroke="#000" stroke-width="0.4">20</text>
<line x1="326.85" y1="156" x2="326.85" y2="240" stroke="#000" stroke-width="4.6"/>
<polygon points="318.95,232.7 334.75,232.7 326.85,269.2" fill="#000"/>
<text x="347.7" y="168.3" font-size="30.5" word-spacing="0" stroke="#000" stroke-width="0.4">Larger correlations</text>
<text x="801.2" y="94.8" font-size="30.5" word-spacing="1.3" stroke="#000" stroke-width="0.4">16 bit ADC</text>
<text x="801.2" y="217.5" font-size="30.5" word-spacing="1.3" stroke="#000" stroke-width="0.4">12 bit ADC</text>
<text x="800.9" y="334.5" font-size="30.5" word-spacing="1.3" stroke="#000" stroke-width="0.4">8 bit ADC</text>
<text x="105.6" y="580.6" font-size="30.5" stroke="#000" stroke-width="0.4">Conditional quantum signal variance to noise ratio</text>
<text x="906.2" y="580.6" font-size="30.5" stroke="#000" stroke-width="0.4">[dB]</text>
<text class="ss" transform="translate(731.70,578.70) scale(1.000,1)" font-size="25.1" stroke="#000" stroke-width="0.45">(</text>
<text class="ss" transform="translate(741.40,580.10) scale(1.050,1)" font-size="26.7" stroke="#000" stroke-width="0.45">σ</text>
<text class="ss" transform="translate(758.80,585.20) scale(1.000,1)" font-size="19.0" stroke="#000" stroke-width="0.45">X</text>
<text class="ss" transform="translate(771.50,569.40) scale(1.000,1)" font-size="19.0" stroke="#000" stroke-width="0.45">2</text>
<rect x="784.3" y="571.5" width="7.2" height="2.4" fill="#000"/>
<text class="ss" transform="translate(792.50,580.10) scale(1.050,1)" font-size="26.7" stroke="#000" stroke-width="0.45">σ</text>
<text class="ss" transform="translate(810.30,585.40) scale(1.000,1)" font-size="19.0" stroke="#000" stroke-width="0.45">U</text>
<text class="ss" transform="translate(824.05,569.40) scale(1.000,1)" font-size="19.0" stroke="#000" stroke-width="0.45">2</text>
<text class="ss" transform="translate(837.50,578.70) scale(1.000,1)" font-size="25.1" stroke="#000" stroke-width="0.45">)</text>
<text class="ss" transform="translate(846.30,582.30) scale(1.000,1)" font-size="29.5" stroke="#000" stroke-width="0.45">/</text>
<text class="ss" transform="translate(855.20,580.10) scale(1.050,1)" font-size="26.7" stroke="#000" stroke-width="0.45">σ</text>
<text class="ss" transform="translate(872.50,585.40) scale(1.000,1)" font-size="19.0" stroke="#000" stroke-width="0.45">U</text>
<text class="ss" transform="translate(886.15,569.40) scale(1.000,1)" font-size="19.0" stroke="#000" stroke-width="0.45">2</text>
<text transform="translate(23.30,424.90) rotate(-90) scale(1.000,1)" font-size="30.5" font-style="normal" stroke="#000" stroke-width="0.4">Min-Entropy</text>
<text transform="translate(23.30,257.30) rotate(-90) scale(1.000,1)" font-size="30.5" font-style="italic" stroke="#000" stroke-width="0.4">H</text>
<text transform="translate(27.90,236.30) rotate(-90) scale(1.000,1)" font-size="22.0" font-style="normal" stroke="#000" stroke-width="0.4">min</text>
<text transform="translate(23.30,197.00) rotate(-90) scale(0.770,1)" font-size="36.6" font-style="normal">(</text>
<text transform="translate(23.30,187.20) rotate(-90) scale(1.000,1)" font-size="30.5" font-style="italic" stroke="#000" stroke-width="0.4">X</text>
<rect x="-1" y="161.0" width="31.3" height="1.7" fill="#000"/>
<text transform="translate(23.30,157.00) rotate(-90) scale(1.000,1)" font-size="30.5" font-style="italic" stroke="#000" stroke-width="0.4">E</text>
<text transform="translate(23.30,136.20) rotate(-90) scale(0.770,1)" font-size="36.6" font-style="normal">)</text>
<text transform="translate(23.30,116.90) rotate(-90) scale(1.000,1)" font-size="30.5" font-style="normal" stroke="#000" stroke-width="0.4">[bit]</text>
</svg></body></html>
